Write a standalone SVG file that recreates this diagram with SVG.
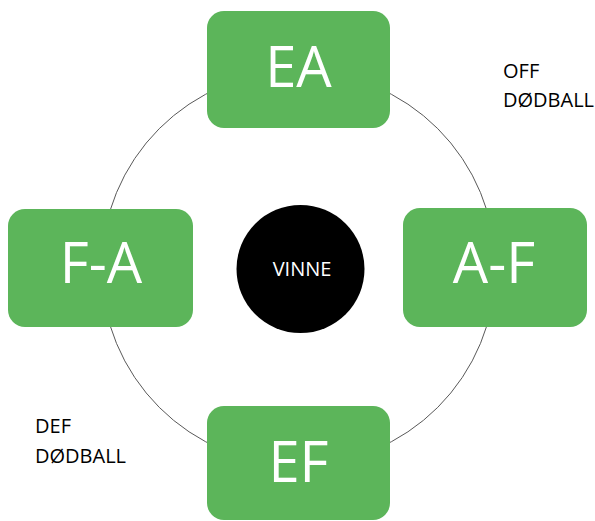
<svg xmlns="http://www.w3.org/2000/svg" width="595" height="521" viewBox="0 0 595 521">
<style>
.box{fill:#5cb55a;}
.big{font-family:"Open Sans","Liberation Sans",sans-serif;font-size:56px;fill:#ffffff;text-anchor:middle;}
.lab{font-family:"Open Sans","Liberation Sans",sans-serif;font-size:20px;fill:#000000;}
.ring{fill:none;stroke:#595959;stroke-width:1;}
</style>
<rect width="595" height="521" fill="#ffffff"/>
<g id="connectors">
<circle class="ring" cx="298.5" cy="268" r="197"/>
</g>
<g id="node-EA">
<rect class="box" x="207" y="11" width="183" height="117" rx="17"/>
<text class="big" x="298.5" y="87">EA</text>
</g>
<g id="node-FA">
<rect class="box" x="8" y="209" width="185" height="118" rx="17"/>
<text class="big" x="101" y="283">F-A</text>
</g>
<g id="node-AF">
<rect class="box" x="403" y="208" width="184" height="119" rx="17"/>
<text class="big" x="494" y="283">A-F</text>
</g>
<g id="node-EF">
<rect class="box" x="207" y="406" width="183" height="114" rx="17"/>
<text class="big" x="298.5" y="482">EF</text>
</g>
<g id="node-VINNE">
<circle cx="300.5" cy="269" r="64" fill="#000000"/>
<text x="302" y="276" font-family="'Open Sans','Liberation Sans',sans-serif" font-size="20" fill="#ffffff" text-anchor="middle">VINNE</text>
</g>
<g id="label-off">
<text class="lab" x="503" y="77.5">OFF</text>
<text class="lab" x="503" y="106.5">DØDBALL</text>
</g>
<g id="label-def">
<text class="lab" x="35" y="433">DEF</text>
<text class="lab" x="35" y="463">DØDBALL</text>
</g>
</svg>
